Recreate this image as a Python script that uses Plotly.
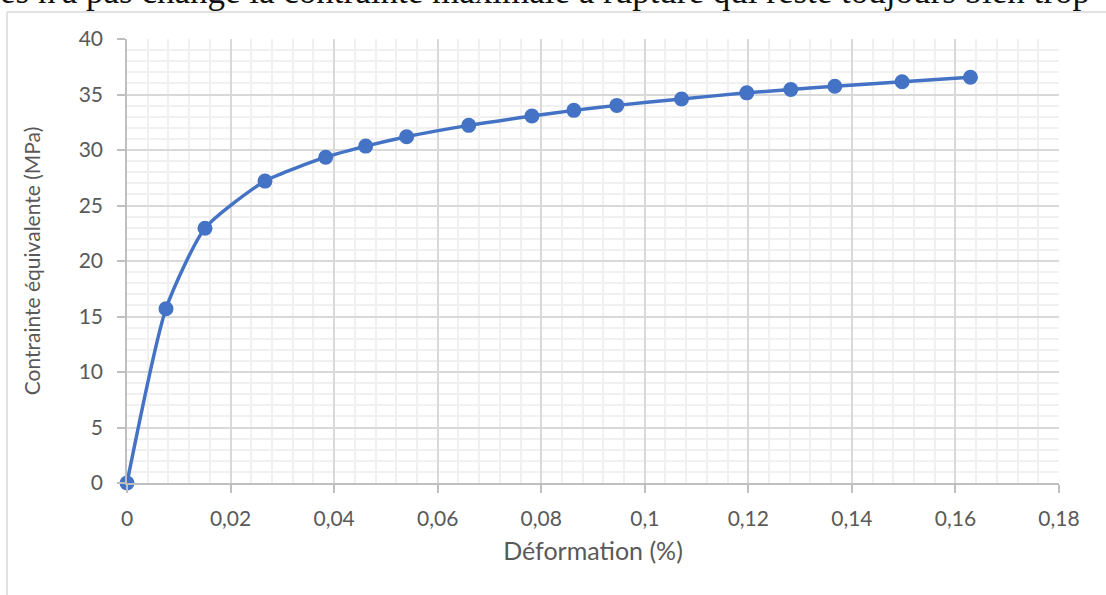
import plotly.graph_objects as go

deformation = [0, 0.00753, 0.01506, 0.02665, 0.03837, 0.0461, 0.0540, 0.0660, 0.0782,
               0.0863, 0.0946, 0.1071, 0.1197, 0.1282, 0.1367, 0.1497, 0.1629]
contrainte = [0, 15.7, 22.95, 27.2, 29.35, 30.35, 31.2, 32.22, 33.06,
              33.57, 34.02, 34.6, 35.15, 35.45, 35.75, 36.15, 36.55]
x_ticks = [0, 0.02, 0.04, 0.06, 0.08, 0.1, 0.12, 0.14, 0.16, 0.18]
x_labels = ["0", "0,02", "0,04", "0,06", "0,08", "0,1", "0,12", "0,14", "0,16", "0,18"]
y_ticks = [0, 5, 10, 15, 20, 25, 30, 35, 40]
page_text = "es n'a pas changé la contrainte maximale à rupture qui reste toujours bien trop"

W, H = 1106, 595
L, R, T, B = 127, 47, 39, 112
pw, ph = W - L - R, H - T - B

def px(xp):
    return (xp - L) / pw

def py(yp):
    return (H - B - yp) / ph

fig = go.Figure()
fig.add_trace(go.Scatter(
    x=deformation, y=contrainte, mode="lines+markers",
    line=dict(color="#4472C4", width=3.5, shape="spline", smoothing=0.6),
    marker=dict(color="#4472C4", size=15),
    showlegend=False, cliponaxis=False,
))

font = dict(family="Lato, Noto Sans, sans-serif", size=21, color="#595959")
xtitle_font = dict(family="Lato, Noto Sans, sans-serif", size=25, color="#595959")

fig.update_layout(
    width=W, height=H,
    margin=dict(l=L, r=R, t=T, b=B, autoexpand=False),
    paper_bgcolor="white", plot_bgcolor="white",
    font=font,
    xaxis=dict(
        range=[0, 0.18], tickvals=x_ticks, ticktext=x_labels,
        showgrid=True, gridcolor="#D9D9D9", gridwidth=1.5,
        minor=dict(dtick=0.004, showgrid=True, gridcolor="#F0F0F0", gridwidth=1.5),
        showline=True, linecolor="#BFBFBF", linewidth=1.5,
        ticks="outside", ticklen=8, tickcolor="#BFBFBF", tickwidth=1.5,
        ticklabelstandoff=8,
        zeroline=False, tickfont=font,
        title=dict(text="Déformation (%)", font=xtitle_font, standoff=14),
    ),
    yaxis=dict(
        range=[0, 40], tickvals=y_ticks,
        showgrid=True, gridcolor="#D9D9D9", gridwidth=1.5,
        minor=dict(dtick=1, showgrid=True, gridcolor="#F0F0F0", gridwidth=1.5),
        showline=True, linecolor="#BFBFBF", linewidth=1.5,
        ticks="outside", ticklen=8, tickcolor="#BFBFBF", tickwidth=1.5,
        ticklabelstandoff=10,
        zeroline=False, tickfont=font,
        title=dict(text="Contrainte équivalente (MPa)", font=font, standoff=32),
    ),
    shapes=[
        dict(type="line", xref="paper", yref="paper", x0=px(7), x1=px(1120), y0=py(12), y1=py(12),
             line=dict(color="#D9D9D9", width=1.5)),
        dict(type="line", xref="paper", yref="paper", x0=px(7), x1=px(7), y0=py(12), y1=py(620),
             line=dict(color="#D9D9D9", width=1.5)),
    ],
    annotations=[
        dict(text=page_text, xref="paper", yref="paper", x=px(-2), y=py(13),
             xanchor="left", yanchor="bottom", showarrow=False,
             font=dict(family="Liberation Serif, DejaVu Serif, serif", size=35, color="#111111")),
    ],
)

fig.write_html("out.html", config={"displayModeBar": False},
               post_script="document.body.style.margin='0';document.body.style.overflow='hidden';")
